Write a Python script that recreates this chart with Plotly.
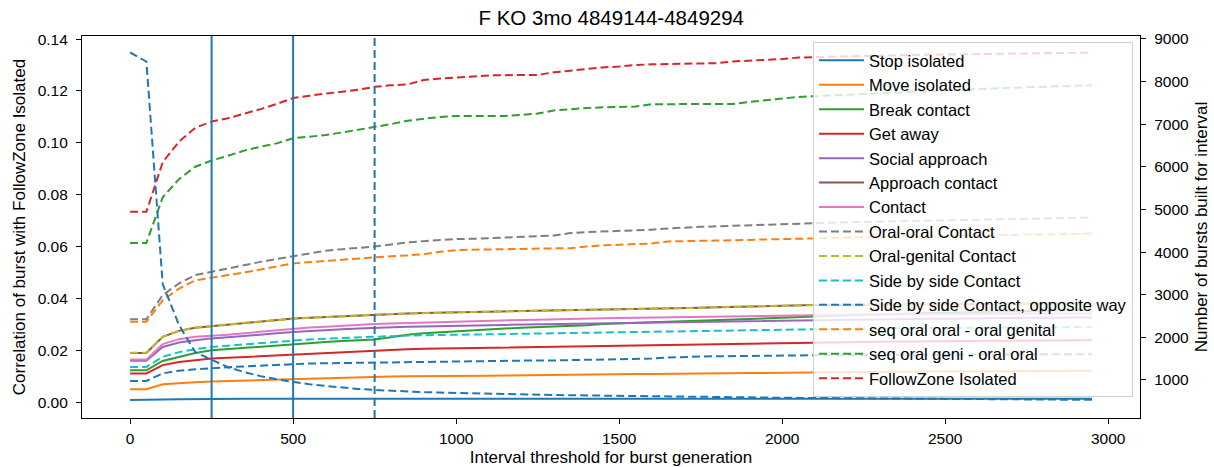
import plotly.graph_objects as go

# ---------------- data ----------------
x_thresholds = list(range(0, 3000, 50))

stop_isolated = [0.0008, 0.0008, 0.0010, 0.0011, 0.0012, 0.0012, 0.0013, 0.0013, 0.0013, 0.0013,
                 0.0013, 0.0013, 0.0013, 0.0013, 0.0013, 0.0013, 0.0013, 0.0013, 0.0013, 0.0013,
                 0.0013, 0.0013, 0.0013, 0.0013, 0.0013, 0.0013, 0.0013, 0.0013, 0.0013, 0.0013,
                 0.0013, 0.0013, 0.0013, 0.0013, 0.0013, 0.0013, 0.0013, 0.0013, 0.0013, 0.0013,
                 0.0013, 0.0013, 0.0013, 0.0013, 0.0013, 0.0013, 0.0013, 0.0013, 0.0013, 0.0013,
                 0.0013, 0.0013, 0.0013, 0.0013, 0.0013, 0.0013, 0.0013, 0.0013, 0.0013, 0.0013]
move_isolated = [0.0050, 0.0050, 0.0069, 0.0074, 0.0077, 0.0080, 0.0082, 0.0084, 0.0086, 0.0088,
                 0.0089, 0.0091, 0.0093, 0.0095, 0.0097, 0.0098, 0.0099, 0.0100, 0.0100, 0.0101,
                 0.0101, 0.0102, 0.0102, 0.0103, 0.0104, 0.0104, 0.0105, 0.0106, 0.0107, 0.0107,
                 0.0108, 0.0109, 0.0109, 0.0110, 0.0111, 0.0111, 0.0112, 0.0112, 0.0113, 0.0113,
                 0.0114, 0.0114, 0.0115, 0.0115, 0.0116, 0.0116, 0.0117, 0.0117, 0.0117, 0.0118,
                 0.0118, 0.0118, 0.0119, 0.0119, 0.0119, 0.0120, 0.0120, 0.0120, 0.0121, 0.0121]
break_contact = [0.0123, 0.0123, 0.0159, 0.0175, 0.0190, 0.0200, 0.0205, 0.0210, 0.0215, 0.0220,
                 0.0224, 0.0228, 0.0232, 0.0236, 0.0239, 0.0242, 0.0250, 0.0260, 0.0266, 0.0270,
                 0.0273, 0.0276, 0.0280, 0.0284, 0.0287, 0.0289, 0.0291, 0.0294, 0.0297, 0.0301,
                 0.0304, 0.0306, 0.0308, 0.0310, 0.0312, 0.0314, 0.0317, 0.0320, 0.0322, 0.0323,
                 0.0325, 0.0327, 0.0330, 0.0333, 0.0335, 0.0337, 0.0339, 0.0341, 0.0343, 0.0344,
                 0.0346, 0.0347, 0.0348, 0.0349, 0.0350, 0.0351, 0.0352, 0.0353, 0.0354, 0.0355]
get_away = [0.0111, 0.0111, 0.0143, 0.0155, 0.0162, 0.0168, 0.0171, 0.0174, 0.0178, 0.0181,
            0.0184, 0.0188, 0.0191, 0.0194, 0.0197, 0.0200, 0.0202, 0.0204, 0.0206, 0.0207,
            0.0208, 0.0209, 0.0210, 0.0211, 0.0212, 0.0213, 0.0215, 0.0216, 0.0217, 0.0218,
            0.0219, 0.0220, 0.0221, 0.0222, 0.0223, 0.0224, 0.0225, 0.0226, 0.0227, 0.0228,
            0.0228, 0.0229, 0.0230, 0.0231, 0.0232, 0.0232, 0.0233, 0.0234, 0.0234, 0.0235,
            0.0235, 0.0236, 0.0236, 0.0237, 0.0237, 0.0238, 0.0238, 0.0238, 0.0239, 0.0239]
social_approach = [0.0160, 0.0160, 0.0213, 0.0230, 0.0239, 0.0246, 0.0250, 0.0256, 0.0261, 0.0266,
                   0.0271, 0.0275, 0.0278, 0.0281, 0.0284, 0.0287, 0.0289, 0.0291, 0.0292, 0.0294,
                   0.0295, 0.0296, 0.0297, 0.0298, 0.0299, 0.0300, 0.0300, 0.0301, 0.0302, 0.0303,
                   0.0304, 0.0305, 0.0306, 0.0308, 0.0309, 0.0310, 0.0311, 0.0312, 0.0313, 0.0313,
                   0.0314, 0.0315, 0.0316, 0.0317, 0.0318, 0.0319, 0.0320, 0.0320, 0.0321, 0.0322,
                   0.0322, 0.0323, 0.0324, 0.0324, 0.0325, 0.0325, 0.0326, 0.0326, 0.0327, 0.0327]
approach_contact = [0.0190, 0.0190, 0.0252, 0.0275, 0.0287, 0.0293, 0.0300, 0.0305, 0.0311, 0.0317,
                    0.0323, 0.0326, 0.0329, 0.0332, 0.0335, 0.0338, 0.0340, 0.0342, 0.0344, 0.0346,
                    0.0347, 0.0348, 0.0349, 0.0350, 0.0351, 0.0352, 0.0353, 0.0354, 0.0355, 0.0356,
                    0.0357, 0.0358, 0.0359, 0.0360, 0.0362, 0.0364, 0.0366, 0.0368, 0.0370, 0.0371,
                    0.0372, 0.0374, 0.0375, 0.0375, 0.0376, 0.0376, 0.0377, 0.0377, 0.0377, 0.0378,
                    0.0378, 0.0378, 0.0379, 0.0379, 0.0379, 0.0380, 0.0380, 0.0380, 0.0381, 0.0381]
contact = [0.0165, 0.0165, 0.0224, 0.0243, 0.0252, 0.0255, 0.0260, 0.0266, 0.0272, 0.0278,
           0.0284, 0.0288, 0.0291, 0.0295, 0.0298, 0.0301, 0.0303, 0.0305, 0.0307, 0.0309,
           0.0311, 0.0313, 0.0314, 0.0315, 0.0317, 0.0318, 0.0320, 0.0321, 0.0323, 0.0324,
           0.0325, 0.0326, 0.0327, 0.0328, 0.0329, 0.0330, 0.0331, 0.0332, 0.0333, 0.0334,
           0.0335, 0.0336, 0.0337, 0.0337, 0.0338, 0.0338, 0.0339, 0.0339, 0.0339, 0.0340,
           0.0340, 0.0340, 0.0341, 0.0341, 0.0341, 0.0342, 0.0342, 0.0342, 0.0342, 0.0342]
oral_oral_contact = [0.0320, 0.0320, 0.0413, 0.0458, 0.0490, 0.0503, 0.0516, 0.0530, 0.0541, 0.0552,
                     0.0563, 0.0574, 0.0584, 0.0590, 0.0595, 0.0600, 0.0608, 0.0616, 0.0621, 0.0626,
                     0.0629, 0.0630, 0.0632, 0.0634, 0.0637, 0.0640, 0.0643, 0.0652, 0.0656, 0.0658,
                     0.0660, 0.0663, 0.0665, 0.0670, 0.0674, 0.0676, 0.0678, 0.0680, 0.0682, 0.0685,
                     0.0688, 0.0689, 0.0691, 0.0693, 0.0694, 0.0695, 0.0697, 0.0698, 0.0699, 0.0700,
                     0.0701, 0.0702, 0.0704, 0.0705, 0.0706, 0.0707, 0.0708, 0.0709, 0.0710, 0.0712]
oral_genital_contact = [0.0191, 0.0191, 0.0252, 0.0275, 0.0288, 0.0293, 0.0300, 0.0306, 0.0311, 0.0317,
                        0.0323, 0.0326, 0.0328, 0.0332, 0.0335, 0.0338, 0.0340, 0.0342, 0.0344, 0.0345,
                        0.0347, 0.0348, 0.0349, 0.0350, 0.0351, 0.0352, 0.0353, 0.0354, 0.0355, 0.0356,
                        0.0357, 0.0358, 0.0359, 0.0361, 0.0362, 0.0364, 0.0366, 0.0368, 0.0369, 0.0371,
                        0.0372, 0.0374, 0.0375, 0.0376, 0.0376, 0.0377, 0.0377, 0.0378, 0.0378, 0.0378,
                        0.0379, 0.0379, 0.0379, 0.0380, 0.0380, 0.0380, 0.0381, 0.0381, 0.0381, 0.0382]
side_by_side_contact = [0.0136, 0.0136, 0.0175, 0.0193, 0.0204, 0.0213, 0.0218, 0.0223, 0.0228, 0.0234,
                        0.0239, 0.0242, 0.0245, 0.0248, 0.0250, 0.0252, 0.0255, 0.0257, 0.0258, 0.0259,
                        0.0260, 0.0261, 0.0262, 0.0263, 0.0264, 0.0265, 0.0266, 0.0268, 0.0269, 0.0270,
                        0.0271, 0.0272, 0.0273, 0.0274, 0.0275, 0.0276, 0.0277, 0.0278, 0.0279, 0.0279,
                        0.0280, 0.0281, 0.0282, 0.0283, 0.0283, 0.0284, 0.0284, 0.0285, 0.0285, 0.0286,
                        0.0286, 0.0287, 0.0287, 0.0288, 0.0288, 0.0289, 0.0289, 0.0289, 0.0290, 0.0290]
side_by_side_opposite = [0.0082, 0.0082, 0.0111, 0.0121, 0.0127, 0.0132, 0.0135, 0.0138, 0.0141, 0.0144,
                         0.0147, 0.0149, 0.0150, 0.0151, 0.0152, 0.0153, 0.0154, 0.0155, 0.0156, 0.0157,
                         0.0158, 0.0159, 0.0159, 0.0160, 0.0160, 0.0161, 0.0161, 0.0162, 0.0162, 0.0163,
                         0.0164, 0.0166, 0.0168, 0.0172, 0.0175, 0.0176, 0.0177, 0.0178, 0.0179, 0.0179,
                         0.0180, 0.0180, 0.0181, 0.0181, 0.0182, 0.0182, 0.0182, 0.0183, 0.0183, 0.0183,
                         0.0184, 0.0184, 0.0184, 0.0184, 0.0185, 0.0185, 0.0185, 0.0185, 0.0185, 0.0185]
seq_oral_oral_oral_genital = [0.0310, 0.0310, 0.0393, 0.0438, 0.0470, 0.0481, 0.0490, 0.0500, 0.0512, 0.0524,
                              0.0535, 0.0540, 0.0545, 0.0550, 0.0555, 0.0560, 0.0563, 0.0566, 0.0570, 0.0580,
                              0.0586, 0.0588, 0.0590, 0.0590, 0.0591, 0.0592, 0.0593, 0.0594, 0.0600, 0.0605,
                              0.0607, 0.0609, 0.0612, 0.0620, 0.0622, 0.0622, 0.0623, 0.0625, 0.0627, 0.0628,
                              0.0629, 0.0630, 0.0632, 0.0634, 0.0635, 0.0636, 0.0637, 0.0638, 0.0639, 0.0640,
                              0.0641, 0.0642, 0.0643, 0.0644, 0.0645, 0.0646, 0.0647, 0.0648, 0.0649, 0.0650]
seq_oral_geni_oral_oral = [0.0614, 0.0614, 0.0790, 0.0860, 0.0908, 0.0932, 0.0950, 0.0970, 0.0985, 0.0998,
                           0.1018, 0.1024, 0.1030, 0.1040, 0.1050, 0.1060, 0.1072, 0.1085, 0.1092, 0.1100,
                           0.1104, 0.1104, 0.1104, 0.1104, 0.1108, 0.1113, 0.1125, 0.1130, 0.1134, 0.1137,
                           0.1139, 0.1140, 0.1149, 0.1149, 0.1149, 0.1149, 0.1149, 0.1150, 0.1158, 0.1164,
                           0.1170, 0.1177, 0.1180, 0.1183, 0.1186, 0.1189, 0.1192, 0.1195, 0.1198, 0.1201,
                           0.1204, 0.1206, 0.1208, 0.1210, 0.1212, 0.1214, 0.1216, 0.1218, 0.1220, 0.1222]
followzone_isolated = [0.0734, 0.0734, 0.0925, 0.1005, 0.1058, 0.1082, 0.1095, 0.1112, 0.1130, 0.1150,
                       0.1173, 0.1182, 0.1190, 0.1196, 0.1205, 0.1216, 0.1222, 0.1225, 0.1242, 0.1248,
                       0.1252, 0.1256, 0.1260, 0.1261, 0.1261, 0.1262, 0.1272, 0.1278, 0.1285, 0.1291,
                       0.1294, 0.1300, 0.1303, 0.1304, 0.1305, 0.1306, 0.1307, 0.1314, 0.1317, 0.1320,
                       0.1323, 0.1329, 0.1331, 0.1333, 0.1334, 0.1336, 0.1337, 0.1338, 0.1339, 0.1340,
                       0.1340, 0.1341, 0.1342, 0.1343, 0.1344, 0.1345, 0.1345, 0.1346, 0.1347, 0.1347]

# number of bursts built for each interval (right axis)
n_bursts = [8683, 8472, 3250, 2290, 1650, 1470, 1300, 1185, 1090, 1015,
            950, 900, 860, 820, 790, 765, 745, 730, 715, 705,
            695, 685, 675, 668, 660, 654, 648, 642, 636, 630,
            625, 620, 615, 611, 607, 603, 599, 595, 591, 587,
            583, 580, 577, 574, 571, 568, 565, 562, 559, 556,
            553, 550, 548, 546, 544, 542, 540, 538, 536, 534]

series_names = ["Stop isolated", "Move isolated", "Break contact", "Get away",
                "Social approach", "Approach contact", "Contact", "Oral-oral Contact",
                "Oral-genital Contact", "Side by side Contact",
                "Side by side Contact, opposite way", "seq oral oral - oral genital",
                "seq oral geni - oral oral", "FollowZone Isolated"]
series_values = [stop_isolated, move_isolated, break_contact, get_away,
                 social_approach, approach_contact, contact, oral_oral_contact,
                 oral_genital_contact, side_by_side_contact, side_by_side_opposite,
                 seq_oral_oral_oral_genital, seq_oral_geni_oral_oral, followzone_isolated]
series_colors = ["#1f77b4", "#ff7f0e", "#2ca02c", "#d62728", "#9467bd", "#8c564b", "#e377c2",
                 "#7f7f7f", "#bcbd22", "#17becf", "#1f77b4", "#ff7f0e", "#2ca02c", "#d62728"]
series_dashed = [False] * 7 + [True] * 7

vline_x = [250, 500, 750]
vline_dash = ["solid", "solid", "dash"]

title_text = "F KO 3mo 4849144-4849294"
x_title = "Interval threshold for burst generation"
y_title = "Correlation of burst with FollowZone Isolated"
y2_title = "Number of bursts built for interval"

# ---------------- figure ----------------
FONT = "Liberation Sans, Arial, Helvetica, sans-serif"
DASH = "8px,4px"

fig = go.Figure()
for name, vals, col, dashed in zip(series_names, series_values, series_colors, series_dashed):
    fig.add_trace(go.Scatter(
        x=x_thresholds, y=vals, name=name, mode="lines",
        line=dict(color=col, width=2, dash=DASH if dashed else "solid"),
        yaxis="y",
    ))

fig.add_trace(go.Scatter(
    x=x_thresholds, y=n_bursts, name="Number of bursts", mode="lines",
    line=dict(color="#1f77b4", width=2, dash=DASH),
    yaxis="y2", showlegend=False,
))

for xv, ds in zip(vline_x, vline_dash):
    fig.add_shape(type="line", xref="x", yref="paper", x0=xv, x1=xv, y0=0, y1=1,
                  line=dict(color="#1f77b4", width=2, dash=DASH if ds == "dash" else "solid"),
                  layer="above")

axis_common = dict(
    showline=True, linecolor="black", linewidth=1.2,
    ticks="outside", ticklen=5, tickwidth=1.2, tickcolor="black",
    showgrid=False, zeroline=False, automargin=False,
    tickfont=dict(family=FONT, size=15.5, color="black"),
)

fig.update_layout(
    width=1214, height=467,
    margin=dict(l=82, r=74, t=36, b=49),
    paper_bgcolor="white", plot_bgcolor="white",
    font=dict(family=FONT, size=15, color="black"),
    title=dict(text=title_text, x=0.5035, xanchor="center", y=0.962, yanchor="middle",
               font=dict(family=FONT, size=20.5, color="black"), automargin=False),
    xaxis=dict(
        range=[-147.5, 3097.5], tickvals=[0, 500, 1000, 1500, 2000, 2500, 3000],
        mirror=True,
        title=dict(text=x_title, standoff=8, font=dict(family=FONT, size=17)),
        ticklabelstandoff=1,
        **axis_common,
    ),
    yaxis=dict(
        range=[-0.0061, 0.1412], tickvals=[0, 0.02, 0.04, 0.06, 0.08, 0.10, 0.12, 0.14],
        tickformat=".2f",
        title=dict(text=y_title, standoff=7, font=dict(family=FONT, size=17)),
        ticklabelstandoff=5,
        **axis_common,
    ),
    yaxis2=dict(
        range=[108, 9070], tickvals=[1000, 2000, 3000, 4000, 5000, 6000, 7000, 8000, 9000],
        overlaying="y", side="right",
        title=dict(text=y2_title, standoff=7, font=dict(family=FONT, size=17)),
        ticklabelstandoff=5,
        **axis_common,
    ),
    legend=dict(
        x=0.9934, y=0.984, xanchor="right", yanchor="top",
        bgcolor="rgba(255,255,255,0.8)", bordercolor="#d0d0d0", borderwidth=1,
        font=dict(family=FONT, size=16.5, color="black"),
        itemwidth=45, tracegroupgap=0,
    ),
    showlegend=True,
)

fig.write_html("out.html")
